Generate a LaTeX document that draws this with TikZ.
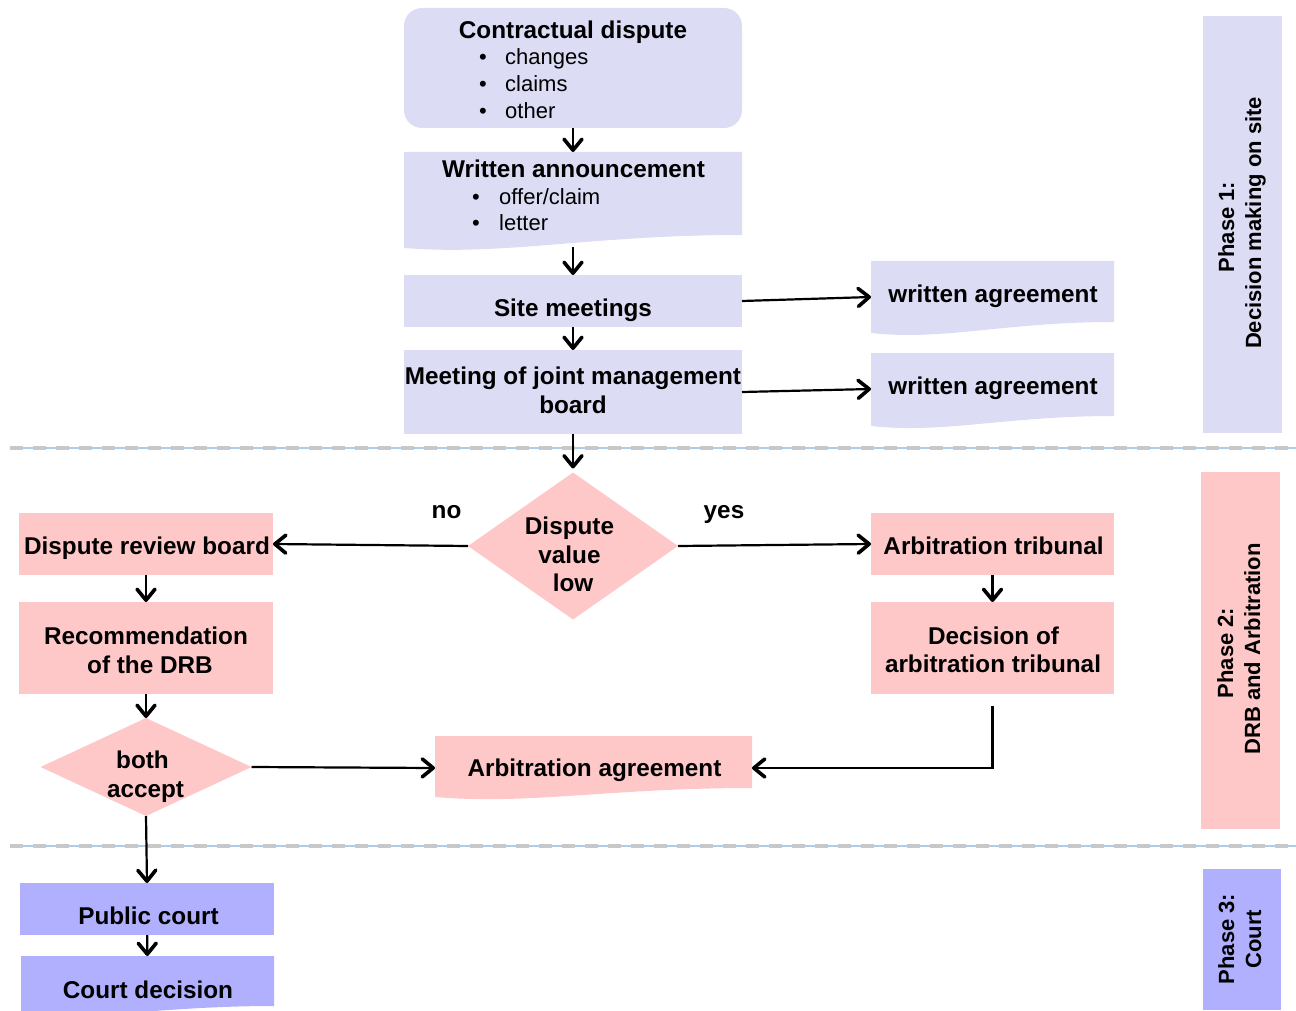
\documentclass[tikz,border=0pt]{standalone}
\usepackage{fontspec}
\setmainfont{Liberation Sans}
\usetikzlibrary{arrows.meta,shapes.geometric}
\definecolor{lav}{RGB}{220,220,245}
\definecolor{pinkf}{RGB}{255,200,200}
\definecolor{bluef}{RGB}{176,176,255}
\definecolor{sepgrey}{RGB}{200,200,200}
\definecolor{sepblue}{RGB}{170,205,235}
% colour, x0, x1, ytop, y bottom left, y bottom right
\newcommand\DocFill[6]{%
  \fill[#1] (#2,#4) -- (#3,#4) -- (#3,#6)
    .. controls ({#2+0.55*(#3-#2)},#6) and ({#2+0.3*(#3-#2)},{#5+8}) .. (#2,#5) -- cycle;}
\begin{document}
\begin{tikzpicture}[x=1pt,y=-1pt,
  box/.style={rectangle, inner sep=0pt, outer sep=0pt},
  lavb/.style={box, fill=lav},
  pinkb/.style={box, fill=pinkf},
  blueb/.style={box, fill=bluef},
  docb/.style={box},
  dia/.style={diamond, inner sep=0pt, outer sep=0pt, fill=pinkf},
  txt/.style={anchor=base, inner sep=0pt, font=\fontsize{24.3}{29}\selectfont\bfseries},
  btxt/.style={anchor=base west, inner sep=0pt, font=\fontsize{22}{27}\selectfont},
  bul/.style={anchor=base, inner sep=0pt, font=\fontsize{22}{27}\selectfont},
  ptxt/.style={anchor=base, rotate=90, inner sep=0pt, font=\fontsize{22}{27}\selectfont\bfseries},
  conn/.style={line width=2.2pt, -{Straight Barb[length=11pt,width=18pt,line width=3.6pt 0,round]}},
  sepline/.style={sepblue, line width=1.5pt},
  sepdash/.style={sepgrey, line width=4pt, dash pattern=on 13pt off 10pt}
]
\useasboundingbox (0,0) rectangle (1296,1011);

% separators
\coordinate (s1a) at (10,448); \coordinate (s1b) at (1296,448);
\coordinate (s2a) at (10,846); \coordinate (s2b) at (1296,846);
\draw[sepline] (s1a) -- (s1b); \draw[sepdash] (s1a) -- (s1b);
\draw[sepline] (s2a) -- (s2b); \draw[sepdash] (s2a) -- (s2b);

% phase boxes
\node[lavb, minimum width=79pt, minimum height=417pt] (ph1) at (1242.5,224.5) {};
\node[pinkb, minimum width=79pt, minimum height=357pt] (ph2) at (1240.5,650.5) {};
\node[blueb, minimum width=78pt, minimum height=141pt] (ph3) at (1242,939.5) {};
\node[ptxt] (ph1a) at (1234,227) {Phase 1:};
\node[ptxt] (ph1b) at (1261,223) {Decision making on site};
\node[ptxt] (ph2a) at (1233,653) {Phase 2:};
\node[ptxt] (ph2b) at (1260,649) {DRB and Arbitration};
\node[ptxt] (ph3a) at (1234,939) {Phase 3:};
\node[ptxt] (ph3b) at (1261,939) {Court};

% phase 1 boxes
\node[lavb, rounded corners=18pt, minimum width=338pt, minimum height=120pt] (c1) at (573,68) {};
\node[txt] (c1t) at (573,39) {Contractual dispute};
\node[bul] (c1b1) at (483,65) {•}; \node[btxt] (c1l1) at (505,65) {changes};
\node[bul] (c1b2) at (483,92) {•}; \node[btxt] (c1l2) at (505,92) {claims};
\node[bul] (c1b3) at (483,119) {•}; \node[btxt] (c1l3) at (505,119) {other};

\DocFill{lav}{404}{742}{152}{248}{235}
\node[docb, minimum width=338pt, minimum height=95pt] (wa) at (573,199.5) {};
\node[txt] (wat) at (573.5,178) {Written announcement};
\node[bul] (wab1) at (476,205) {•}; \node[btxt] (wal1) at (499,205) {offer/claim};
\node[bul] (wab2) at (476,231) {•}; \node[btxt] (wal2) at (499,231) {letter};

\node[lavb, minimum width=338pt, minimum height=52pt] (site) at (573,301) {};
\node[txt] (sitet) at (573,316) {Site meetings};

\node[lavb, minimum width=338pt, minimum height=84pt] (joint) at (573,392) {};
\node[txt] (jointt1) at (573,384) {Meeting of joint management};
\node[txt] (jointt2) at (573,413) {board};

\DocFill{lav}{871}{1114}{261}{333}{322}
\node[docb, minimum width=243pt, minimum height=72pt] (wa1) at (992.5,297) {};
\node[txt] (wa1t) at (993,302) {written agreement};
\DocFill{lav}{871}{1114}{353}{426}{416}
\node[docb, minimum width=243pt, minimum height=72pt] (wa2) at (992.5,389) {};
\node[txt] (wa2t) at (993,394) {written agreement};

% phase 2
\node[dia, minimum width=210pt, minimum height=147pt] (dv) at (573,546) {};
\node[txt] (dvt1) at (569.5,534) {Dispute};
\node[txt] (dvt2) at (569.5,563) {value};
\node[txt] (dvt3) at (573,591) {low};
\node[txt] (no) at (446.5,518) {no};
\node[txt] (yes) at (724,518) {yes};

\node[pinkb, minimum width=254pt, minimum height=62pt] (drb) at (146,544) {};
\node[txt] (drbt) at (147,554) {Dispute review board};
\node[pinkb, minimum width=254pt, minimum height=92pt] (rec) at (146,648) {};
\node[txt] (rect1) at (146,644) {Recommendation};
\node[txt] (rect2) at (150,673) {of the DRB};
\node[dia, minimum width=211pt, minimum height=98pt] (ba) at (146,767) {};
\node[txt] (bat1) at (142.5,768) {both};
\node[txt] (bat2) at (145.5,797) {accept};

\node[pinkb, minimum width=243pt, minimum height=62pt] (at) at (992.5,544) {};
\node[txt] (att) at (993.5,554) {Arbitration tribunal};
\node[pinkb, minimum width=243pt, minimum height=92pt] (dat) at (992.5,648) {};
\node[txt] (datt1) at (993.5,644) {Decision of};
\node[txt] (datt2) at (993,672) {arbitration tribunal};

\DocFill{pinkf}{435}{752}{736}{797}{788}
\node[docb, minimum width=317pt, minimum height=64pt] (aa) at (593.5,768) {};
\node[txt] (aat) at (594.5,776) {Arbitration agreement};

% phase 3
\node[blueb, minimum width=254pt, minimum height=52pt] (pc) at (147,909) {};
\node[txt] (pct) at (148.5,924) {Public court};
\DocFill{bluef}{21}{274}{956}{1013}{1006}
\node[docb, minimum width=253pt, minimum height=52pt] (cd) at (147.5,982) {};
\node[txt] (cdt) at (148,998) {Court decision};

% connectors
\draw[conn] (c1) -- (wa);
\draw[conn] (wa) -- (site);
\draw[conn] (site) -- (joint);
\draw[conn, shorten >=4pt] (joint) -- (dv);
\draw[conn] (site.east) -- (wa1.west);
\draw[conn] (joint.east) -- (wa2.west);
\draw[conn] (dv.west) -- (drb.east);
\draw[conn] (dv.east) -- (at.west);
\draw[conn] (drb) -- (rec);
\draw[conn] (rec) -- (ba);
\draw[conn] (ba.east) -- (aa.west);
\draw[conn] (at) -- (dat);
\coordinate (datout) at ([yshift=-12pt]dat.south);
\draw[conn] (datout) |- (aa.east);
\draw[conn] (ba.south) -- (pc.north);
\draw[conn] (pc) -- (cd);
\end{tikzpicture}
\end{document}
